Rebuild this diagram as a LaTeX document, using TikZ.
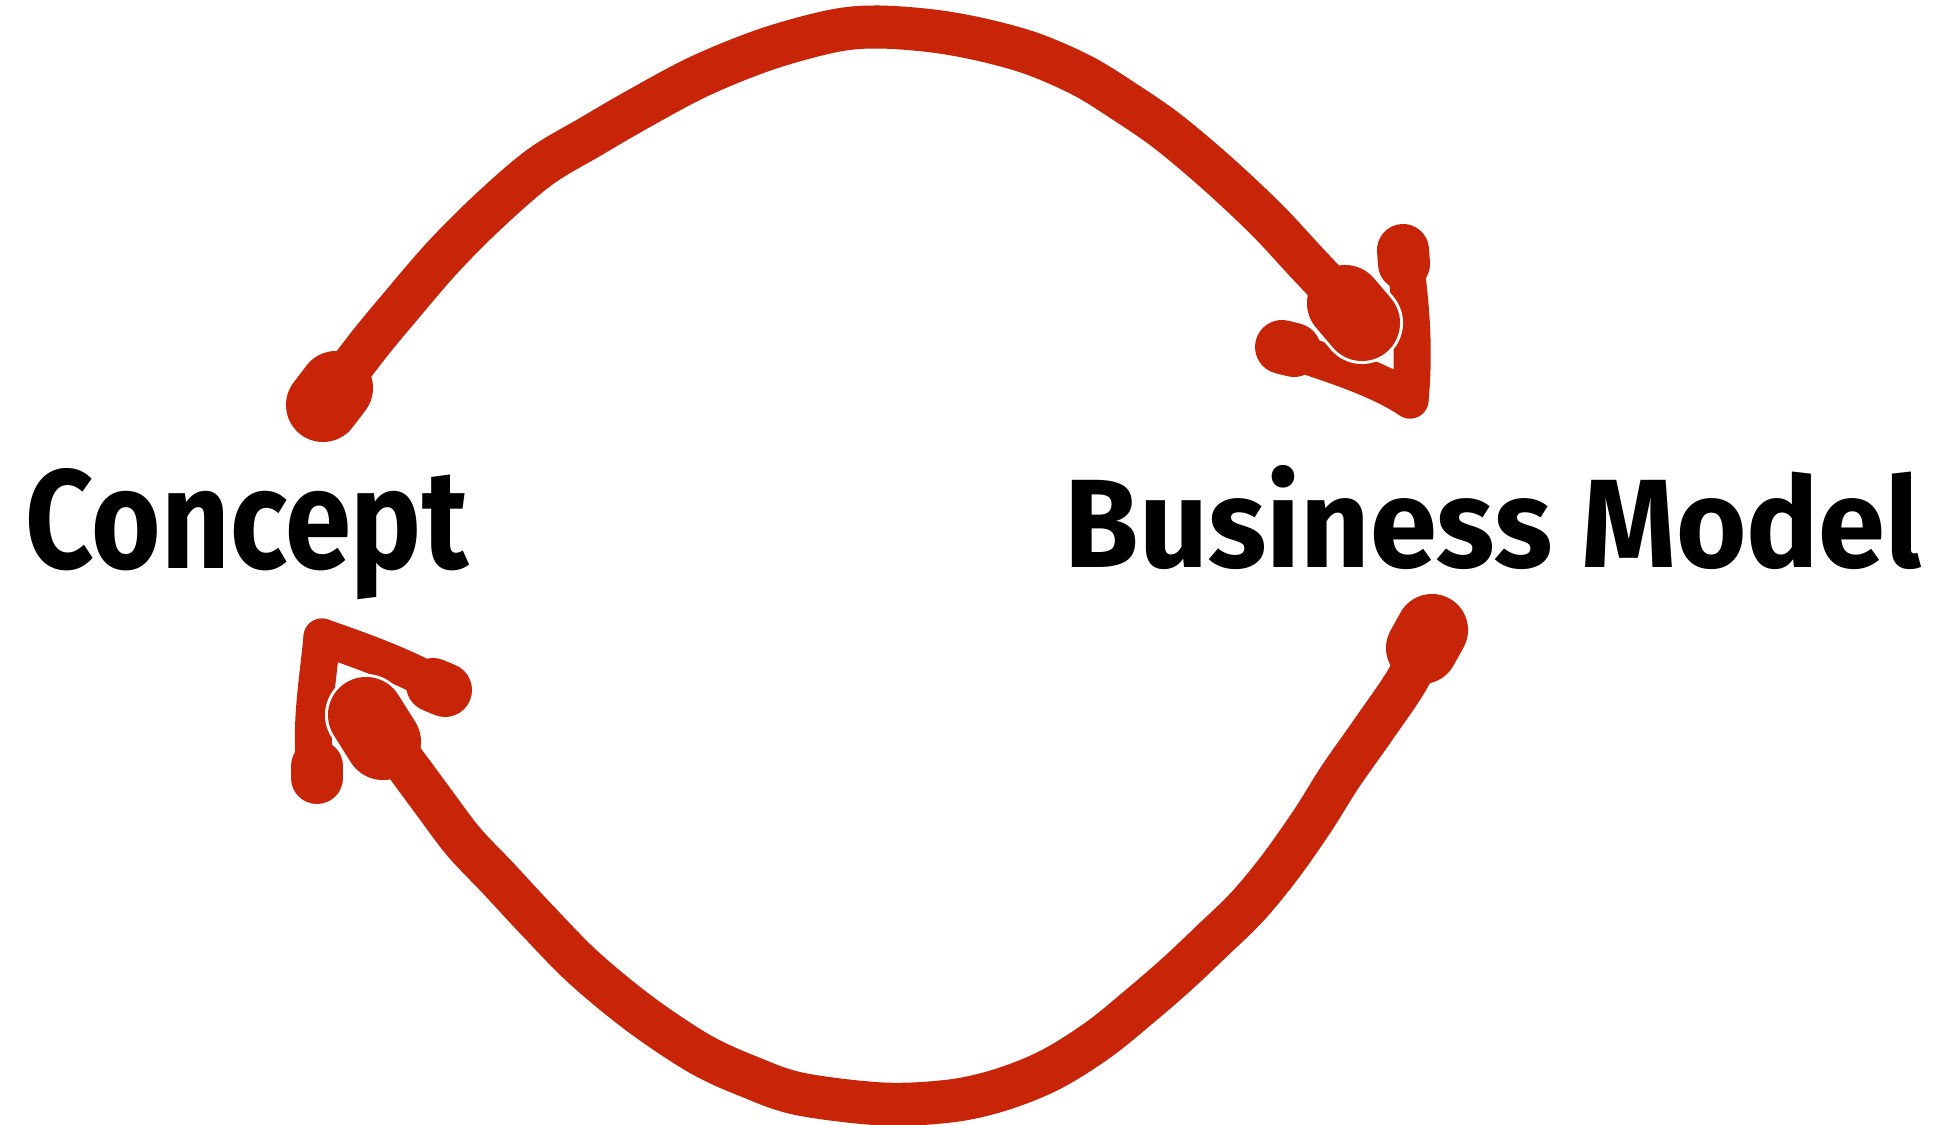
\documentclass[tikz,border=0pt]{standalone}
\usepackage{fontspec}
\setmainfont{Fira Sans}
\usepackage{graphicx}
\definecolor{markerred}{RGB}{200,36,8}
\begin{document}
\begin{tikzpicture}[x=0.01cm,y=-0.01cm,
  arcline/.style={draw=markerred, line width=0.43cm, line cap=round, line join=round},
  armline/.style={draw=markerred, line width=0.37cm, line cap=round, line join=round},
  blob/.style={draw=markerred, line width=#1, line cap=round},
  halo/.style={draw=white, line width=#1, line cap=round},
  word/.style={anchor=base west, inner sep=0pt, font=\bfseries}]

\useasboundingbox (0,0) rectangle (1940,1125);

% labels
\node[word] (concept) at (25,568) {\resizebox{4.42cm}{1.0cm}{Concept}};
\node[word] (bm) at (1064,568) {\resizebox{8.56cm}{1.02cm}{Business Model}};

% ---------- top arc: Concept -> Business Model ----------
\coordinate (ts) at (323,405);
\coordinate (te) at (1345,303);
\coordinate (ttip) at (1410,400);
\coordinate (tup) at (1403,250);
\coordinate (tleft) at (1282,347);

\draw[armline] (tup) .. controls (1413,310) and (1414,360) .. (ttip);
\draw[armline] (tleft) .. controls (1322,362) and (1372,375) .. (ttip);
\draw[blob=0.52cm] (tup) -- ++(1,14);
\draw[blob=0.54cm] (tleft) -- ++(12,3);
\draw[halo=0.82cm] (1345,303) -- (1362,323);
\draw[arcline] plot[smooth, tension=0.55] coordinates {(ts) (367,347) (400,307) (443,257) (490,210) (540,167) (590,137) (640,108) (700,76) (767,49) (833,31) (877,27) (933,31) (983,40) (1033,54) (1083,76) (1125,102) (1167,131) (1217,173) (1267,220) (1307,263) (te)};
\draw[blob=0.74cm] (ts) -- (336,388);
\draw[blob=0.76cm] (te) -- (1362,323);

% ---------- bottom arc: Business Model -> Concept ----------
\coordinate (bs) at (1432,630);
\coordinate (be) at (383,742);
\coordinate (btip) at (322,637);
\coordinate (bdown) at (317,778);
\coordinate (bright) at (445,690);

\draw[armline] (btip) .. controls (318,680) and (308,735) .. (bdown);
\draw[armline] (btip) .. controls (365,652) and (410,668) .. (bright);
\draw[blob=0.52cm] (bdown) -- ++(0,-12);
\draw[blob=0.54cm] (bright) -- ++(-12,-5);
\draw[halo=0.82cm] (be) -- (366,715);
\draw[arcline] plot[smooth, tension=0.55] coordinates {(bs) (1407,680) (1373,730) (1340,777) (1313,820) (1280,867) (1247,907) (1213,940) (1177,974) (1140,1006) (1098,1040) (1050,1070) (1000,1090) (950,1101) (883,1104) (800,1094) (750,1077) (700,1054) (640,1014) (583,967) (537,920) (497,877) (463,841) (430,797) (397,753) (be)};
\draw[blob=0.72cm] (bs) -- (1422,648);
\draw[blob=0.76cm] (be) -- (366,715);
\end{tikzpicture}
\end{document}
